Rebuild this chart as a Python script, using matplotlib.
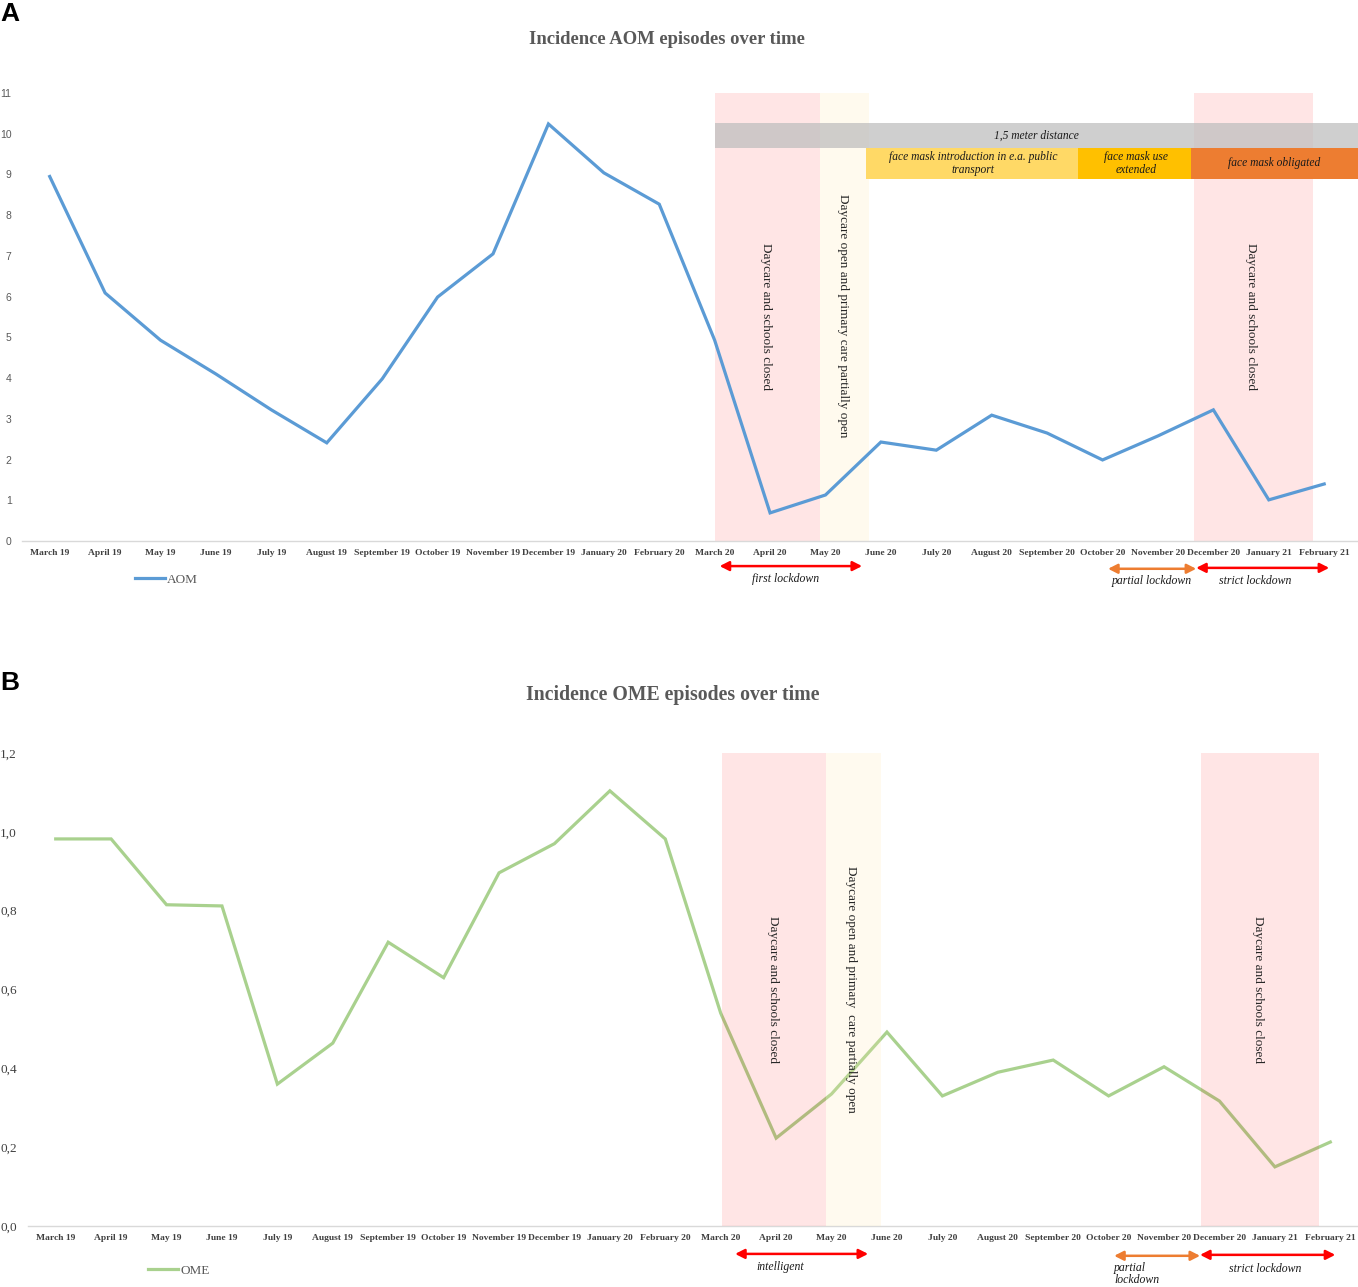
import matplotlib
matplotlib.use("Agg")
import matplotlib.pyplot as plt
import matplotlib.transforms as mtransforms

months = ["March 19", "April 19", "May 19", "June 19", "July 19", "August 19",
          "September 19", "October 19", "November 19", "December 19", "January 20",
          "February 20", "March 20", "April 20", "May 20", "June 20", "July 20",
          "August 20", "September 20", "October 20", "November 20", "December 20",
          "January 21", "February 21"]
aom = [8.95, 6.09, 4.93, 4.10, 3.22, 2.41, 3.98, 5.99, 7.05, 10.24, 9.04, 8.27,
       4.93, 0.69, 1.13, 2.43, 2.23, 3.09, 2.65, 1.99, 2.58, 3.22, 1.01, 1.40]
ome = [0.982, 0.982, 0.815, 0.812, 0.360, 0.464, 0.720, 0.630, 0.896, 0.970, 1.104, 0.982,
       0.540, 0.223, 0.335, 0.492, 0.330, 0.390, 0.421, 0.330, 0.404, 0.317, 0.150, 0.213]
aom_ticks = list(range(0, 12))
ome_ticks = [0.0, 0.2, 0.4, 0.6, 0.8, 1.0, 1.2]
ome_ticklabels = ["0,0", "0,2", "0,4", "0,6", "0,8", "1,0", "1,2"]

W, H = 1358, 1287
fig = plt.figure(figsize=(W / 100, H / 100), dpi=100)

SERIF = ["Liberation Serif", "DejaVu Serif"]
SANS = ["Liberation Sans", "DejaVu Sans"]
PINK = "#FF0000"
CREAM = "#FFFAEE"
BLUE = "#5B9BD5"
GREEN = "#A9D18E"


def axes_rect(left_px, right_px, top_px, bottom_px):
    return [left_px / W, 1 - bottom_px / H, (right_px - left_px) / W, (bottom_px - top_px) / H]


def style_axes(ax, xmax):
    x = list(range(len(months)))
    ax.set_xlim(-0.5, xmax)
    ax.set_xticks(x)
    ax.set_xticklabels(months, fontsize=6.8, fontweight="bold", family=SERIF, color="#404040")
    for s in ["top", "right", "left"]:
        ax.spines[s].set_visible(False)
    ax.spines["bottom"].set_color("#D9D9D9")
    ax.spines["bottom"].set_linewidth(1.0)
    ax.tick_params(axis="both", length=0)
    ax.tick_params(axis="x", pad=6)


# ---------------- Panel A ----------------
axA = fig.add_axes(axes_rect(22, 1358, 93, 541))
x = list(range(len(months)))
style_axes(axA, 23.61)
axA.set_ylim(0, 11)
axA.set_yticks(aom_ticks)
axA.set_yticklabels([str(t) for t in aom_ticks], fontsize=7.5, family=SANS, color="#595959")
axA.tick_params(axis="y", pad=7.5)

axA.axvspan(12.0, 13.9, color=PINK, alpha=0.1, lw=0, zorder=1)
axA.axvspan(13.9, 14.78, color=CREAM, lw=0, zorder=1)
axA.axvspan(20.65, 22.8, color=PINK, alpha=0.1, lw=0, zorder=1)
axA.plot(x, aom, color=BLUE, lw=2.3, zorder=3, label="AOM", solid_joinstyle="miter")

# measures bars
axA.fill_between([12.0, 23.61], 9.65, 10.26, color="#BFBFBF", alpha=0.75, lw=0, zorder=4)
axA.fill_between([14.73, 18.56], 8.89, 9.65, color="#FFD966", lw=0, zorder=4)
axA.fill_between([18.56, 20.6], 8.89, 9.65, color="#FFC000", lw=0, zorder=4)
axA.fill_between([20.6, 23.61], 8.89, 9.65, color="#ED7D31", lw=0, zorder=4)
it = dict(family=SERIF, style="italic", fontsize=8.3, color="#1a1a1a", ha="center", va="center",
          zorder=5, linespacing=1.2)
axA.text(17.8, 9.955, "1,5 meter distance", **it)
axA.text(16.66, 9.27, "face mask introduction in e.a. public\ntransport", **it)
axA.text(19.6, 9.27, "face mask use\nextended", **it)
axA.text(22.1, 9.27, "face mask obligated", **it)

vt = dict(family=SERIF, fontsize=9.5, color="#262626", rotation=-90, ha="center", va="center", zorder=5)
axA.text(12.92, 5.52, "Daycare and schools closed", **vt)
axA.text(14.31, 5.52, "Daycare open and primary care partially open", **vt)
axA.text(21.68, 5.52, "Daycare and schools closed", **vt)

axA.legend(loc="center left", bbox_to_anchor=(0.0846, -0.087), frameon=False, borderpad=0,
           borderaxespad=0, handlelength=2.3, handletextpad=0.15,
           prop=dict(family=SERIF, size=9.5), labelcolor="#595959")

trA = mtransforms.blended_transform_factory(axA.transData, axA.transAxes)


def lockdown(ax, tr, x0, x1, y, color):
    ax.annotate("", xy=(x0, y), xytext=(x1, y), xycoords=tr, textcoords=tr,
                arrowprops=dict(arrowstyle="<|-|>,head_length=0.55,head_width=0.28",
                                color=color, lw=1.8, shrinkA=0, shrinkB=0), annotation_clip=False)


lt = dict(family=SERIF, style="italic", fontsize=8.5, color="#1a1a1a", ha="center", va="center")
lockdown(axA, trA, 12.09, 14.66, -0.056, "#FF0000")
axA.text(13.28, -0.084, "first lockdown", transform=trA, **lt)
lockdown(axA, trA, 19.1, 20.69, -0.062, "#ED7D31")
axA.text(19.88, -0.089, "partial lockdown", transform=trA, **lt)
lockdown(axA, trA, 20.69, 23.09, -0.06, "#FF0000")
axA.text(21.76, -0.089, "strict lockdown", transform=trA, **lt)

# ---------------- Panel B ----------------
axB = fig.add_axes(axes_rect(28, 1358, 753, 1226))
style_axes(axB, 23.5)
axB.set_ylim(0, 1.2)
axB.set_yticks(ome_ticks)
axB.set_yticklabels(ome_ticklabels, fontsize=9.5, family=SERIF, color="#404040")
axB.tick_params(axis="y", pad=8)

axB.plot(x, ome, color=GREEN, lw=2.3, zorder=2, label="OME", solid_joinstyle="miter")
axB.axvspan(12.02, 13.9, color=PINK, alpha=0.1, lw=0, zorder=3)
axB.axvspan(13.9, 14.9, color="#FFE9B0", alpha=0.2, lw=0, zorder=3)
axB.axvspan(20.67, 22.8, color=PINK, alpha=0.1, lw=0, zorder=3)

axB.text(12.94, 0.60, "Daycare and schools closed", **vt)
axB.text(14.35, 0.60, "Daycare open and primary  care partially open", **vt)
axB.text(21.7, 0.60, "Daycare and schools closed", **vt)

axB.legend(loc="center left", bbox_to_anchor=(0.09, -0.095), frameon=False, borderpad=0,
           borderaxespad=0, handlelength=2.3, handletextpad=0.15,
           prop=dict(family=SERIF, size=9.5), labelcolor="#595959")

trB = mtransforms.blended_transform_factory(axB.transData, axB.transAxes)
lockdown(axB, trB, 12.26, 14.66, -0.059, "#FF0000")
axB.text(13.08, -0.086, "intelligent", transform=trB, **lt)
lockdown(axB, trB, 19.1, 20.65, -0.063, "#ED7D31")
axB.text(19.1, -0.077, "partial\nlockdown", transform=trB, family=SERIF, style="italic",
         fontsize=8.5, color="#1a1a1a", ha="left", va="top", linespacing=1.0)
lockdown(axB, trB, 20.65, 23.09, -0.061, "#FF0000")
axB.text(21.82, -0.09, "strict lockdown", transform=trB, **lt)

# titles and panel letters
fig.text(667 / W, 1 - 39 / H, "Incidence AOM episodes over time", ha="center", va="center",
         family=SERIF, fontweight="bold", fontsize=13.4, color="#595959")
fig.text(673 / W, 1 - 695 / H, "Incidence OME episodes over time", ha="center", va="center",
         family=SERIF, fontweight="bold", fontsize=14.2, color="#595959")
fig.text(0 / W, 1 - 14 / H, "A", ha="left", va="center", family=SANS, fontweight="bold",
         fontsize=19, color="black")
fig.text(0 / W, 1 - 683 / H, "B", ha="left", va="center", family=SANS, fontweight="bold",
         fontsize=19, color="black")

fig.savefig("out.png", dpi=100)
